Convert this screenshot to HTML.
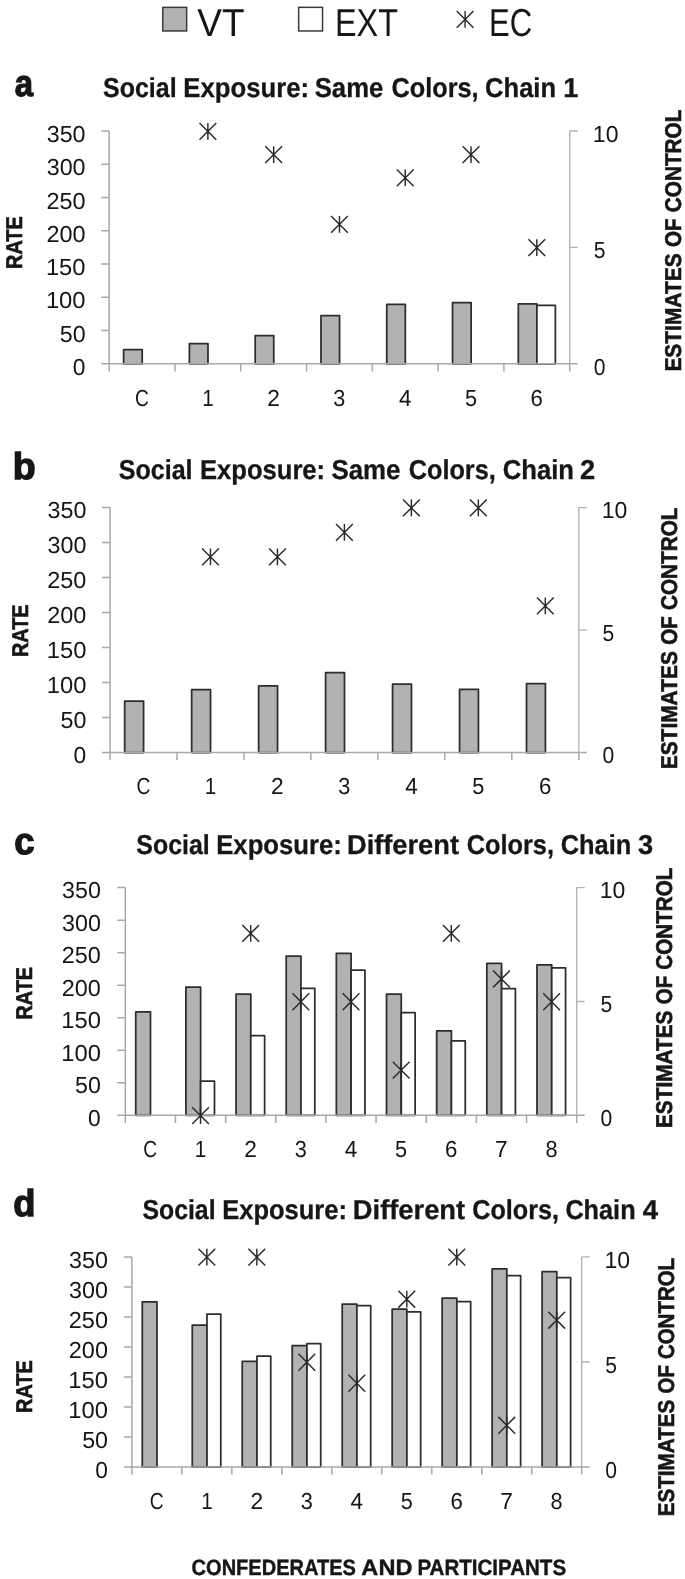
<!DOCTYPE html>
<html><head><meta charset="utf-8"><title>Figure</title>
<style>
html,body{margin:0;padding:0;background:#fff;}
body{width:685px;height:1579px;overflow:hidden;font-family:"Liberation Sans", sans-serif;}
svg{display:block;filter:grayscale(1);font-family:"Liberation Sans", sans-serif;text-rendering:geometricPrecision;}
</style></head><body>
<svg width="685" height="1579" viewBox="0 0 685 1579">
<rect width="685" height="1579" fill="#fff"/>
<rect x="162.75" y="7.35" width="23.9" height="23.6" fill="#b2b2b2" stroke="#3a3a3a" stroke-width="1.5"/>
<rect x="298.65" y="7.35" width="23.9" height="23.6" fill="#fff" stroke="#3a3a3a" stroke-width="1.5"/>
<path d="M456.70 10.90L473.50 27.70M456.70 27.70L473.50 10.90M465.10 10.90L465.10 27.70" stroke="#2a2a2a" stroke-width="1.4" fill="none"/>
<rect x="123.62" y="349.50" width="18.57" height="14.30" fill="#b2b2b2" stroke="#2d2d2d" stroke-width="1.75" stroke-linejoin="round"/>
<rect x="189.40" y="343.60" width="18.57" height="20.20" fill="#b2b2b2" stroke="#2d2d2d" stroke-width="1.75" stroke-linejoin="round"/>
<rect x="255.19" y="335.60" width="18.57" height="28.20" fill="#b2b2b2" stroke="#2d2d2d" stroke-width="1.75" stroke-linejoin="round"/>
<rect x="320.98" y="315.60" width="18.57" height="48.20" fill="#b2b2b2" stroke="#2d2d2d" stroke-width="1.75" stroke-linejoin="round"/>
<rect x="386.76" y="304.40" width="18.57" height="59.40" fill="#b2b2b2" stroke="#2d2d2d" stroke-width="1.75" stroke-linejoin="round"/>
<rect x="452.55" y="302.60" width="18.57" height="61.20" fill="#b2b2b2" stroke="#2d2d2d" stroke-width="1.75" stroke-linejoin="round"/>
<rect x="518.33" y="303.90" width="18.57" height="59.90" fill="#b2b2b2" stroke="#2d2d2d" stroke-width="1.75" stroke-linejoin="round"/>
<rect x="536.91" y="305.30" width="18.47" height="58.50" fill="#fff" stroke="#2d2d2d" stroke-width="1.75" stroke-linejoin="round"/>
<path d="M109.20 131.00V363.80M109.20 363.80H577.70M101.20 363.80H109.20M101.20 330.54H109.20M101.20 297.29H109.20M101.20 264.03H109.20M101.20 230.77H109.20M101.20 197.51H109.20M101.20 164.26H109.20M101.20 131.00H109.20M109.20 363.80V371.40M174.99 363.80V371.40M240.77 363.80V371.40M306.56 363.80V371.40M372.34 363.80V371.40M438.13 363.80V371.40M503.91 363.80V371.40M569.70 363.80V371.40" stroke="#a8a8a8" stroke-width="1.5" fill="none"/>
<path d="M569.70 131.00V363.80M569.70 247.40H577.70M569.70 131.00H577.70" stroke="#b2b2b2" stroke-width="1.35" fill="none"/>
<path d="M199.48 122.90L216.28 139.70M199.48 139.70L216.28 122.90M207.88 122.90L207.88 139.70" stroke="#2a2a2a" stroke-width="1.45" fill="none"/>
<path d="M265.26 146.18L282.06 162.98M265.26 162.98L282.06 146.18M273.66 146.18L273.66 162.98" stroke="#2a2a2a" stroke-width="1.45" fill="none"/>
<path d="M331.05 216.02L347.85 232.82M331.05 232.82L347.85 216.02M339.45 216.02L339.45 232.82" stroke="#2a2a2a" stroke-width="1.45" fill="none"/>
<path d="M396.84 169.46L413.64 186.26M396.84 186.26L413.64 169.46M405.24 169.46L405.24 186.26" stroke="#2a2a2a" stroke-width="1.45" fill="none"/>
<path d="M462.62 146.18L479.42 162.98M462.62 162.98L479.42 146.18M471.02 146.18L471.02 162.98" stroke="#2a2a2a" stroke-width="1.45" fill="none"/>
<path d="M528.41 239.30L545.21 256.10M528.41 256.10L545.21 239.30M536.81 239.30L536.81 256.10" stroke="#2a2a2a" stroke-width="1.45" fill="none"/>
<rect x="124.68" y="701.10" width="18.90" height="51.40" fill="#b2b2b2" stroke="#2d2d2d" stroke-width="1.75" stroke-linejoin="round"/>
<rect x="191.65" y="689.70" width="18.90" height="62.80" fill="#b2b2b2" stroke="#2d2d2d" stroke-width="1.75" stroke-linejoin="round"/>
<rect x="258.63" y="685.90" width="18.90" height="66.60" fill="#b2b2b2" stroke="#2d2d2d" stroke-width="1.75" stroke-linejoin="round"/>
<rect x="325.60" y="672.60" width="18.90" height="79.90" fill="#b2b2b2" stroke="#2d2d2d" stroke-width="1.75" stroke-linejoin="round"/>
<rect x="392.57" y="684.20" width="18.90" height="68.30" fill="#b2b2b2" stroke="#2d2d2d" stroke-width="1.75" stroke-linejoin="round"/>
<rect x="459.54" y="689.40" width="18.90" height="63.10" fill="#b2b2b2" stroke="#2d2d2d" stroke-width="1.75" stroke-linejoin="round"/>
<rect x="526.51" y="683.60" width="18.90" height="68.90" fill="#b2b2b2" stroke="#2d2d2d" stroke-width="1.75" stroke-linejoin="round"/>
<path d="M110.00 507.60V752.50M110.00 752.50H586.80M102.00 752.50H110.00M102.00 717.51H110.00M102.00 682.53H110.00M102.00 647.54H110.00M102.00 612.56H110.00M102.00 577.57H110.00M102.00 542.59H110.00M102.00 507.60H110.00M110.00 752.50V760.10M176.97 752.50V760.10M243.94 752.50V760.10M310.91 752.50V760.10M377.89 752.50V760.10M444.86 752.50V760.10M511.83 752.50V760.10M578.80 752.50V760.10" stroke="#a8a8a8" stroke-width="1.5" fill="none"/>
<path d="M578.80 507.60V752.50M578.80 630.05H586.80M578.80 507.60H586.80" stroke="#b2b2b2" stroke-width="1.35" fill="none"/>
<path d="M202.06 548.48L218.86 565.28M202.06 565.28L218.86 548.48M210.46 548.48L210.46 565.28" stroke="#2a2a2a" stroke-width="1.45" fill="none"/>
<path d="M269.03 548.48L285.83 565.28M269.03 565.28L285.83 548.48M277.43 548.48L277.43 565.28" stroke="#2a2a2a" stroke-width="1.45" fill="none"/>
<path d="M336.00 523.99L352.80 540.79M336.00 540.79L352.80 523.99M344.40 523.99L344.40 540.79" stroke="#2a2a2a" stroke-width="1.45" fill="none"/>
<path d="M402.97 499.50L419.77 516.30M402.97 516.30L419.77 499.50M411.37 499.50L411.37 516.30" stroke="#2a2a2a" stroke-width="1.45" fill="none"/>
<path d="M469.94 499.50L486.74 516.30M469.94 516.30L486.74 499.50M478.34 499.50L478.34 516.30" stroke="#2a2a2a" stroke-width="1.45" fill="none"/>
<path d="M536.91 597.46L553.71 614.26M536.91 614.26L553.71 597.46M545.31 597.46L545.31 614.26" stroke="#2a2a2a" stroke-width="1.45" fill="none"/>
<rect x="135.73" y="1011.80" width="14.75" height="103.50" fill="#b2b2b2" stroke="#2d2d2d" stroke-width="1.75" stroke-linejoin="round"/>
<rect x="185.88" y="987.10" width="14.75" height="128.20" fill="#b2b2b2" stroke="#2d2d2d" stroke-width="1.75" stroke-linejoin="round"/>
<rect x="200.63" y="1081.10" width="13.85" height="34.20" fill="#fff" stroke="#2d2d2d" stroke-width="1.75" stroke-linejoin="round"/>
<rect x="236.04" y="994.20" width="14.75" height="121.10" fill="#b2b2b2" stroke="#2d2d2d" stroke-width="1.75" stroke-linejoin="round"/>
<rect x="250.79" y="1035.70" width="13.85" height="79.60" fill="#fff" stroke="#2d2d2d" stroke-width="1.75" stroke-linejoin="round"/>
<rect x="286.19" y="956.10" width="14.75" height="159.20" fill="#b2b2b2" stroke="#2d2d2d" stroke-width="1.75" stroke-linejoin="round"/>
<rect x="300.94" y="988.30" width="13.85" height="127.00" fill="#fff" stroke="#2d2d2d" stroke-width="1.75" stroke-linejoin="round"/>
<rect x="336.35" y="953.30" width="14.75" height="162.00" fill="#b2b2b2" stroke="#2d2d2d" stroke-width="1.75" stroke-linejoin="round"/>
<rect x="351.10" y="970.10" width="13.85" height="145.20" fill="#fff" stroke="#2d2d2d" stroke-width="1.75" stroke-linejoin="round"/>
<rect x="386.50" y="994.20" width="14.75" height="121.10" fill="#b2b2b2" stroke="#2d2d2d" stroke-width="1.75" stroke-linejoin="round"/>
<rect x="401.26" y="1012.50" width="13.85" height="102.80" fill="#fff" stroke="#2d2d2d" stroke-width="1.75" stroke-linejoin="round"/>
<rect x="436.66" y="1030.90" width="14.75" height="84.40" fill="#b2b2b2" stroke="#2d2d2d" stroke-width="1.75" stroke-linejoin="round"/>
<rect x="451.41" y="1040.90" width="13.85" height="74.40" fill="#fff" stroke="#2d2d2d" stroke-width="1.75" stroke-linejoin="round"/>
<rect x="486.82" y="963.40" width="14.75" height="151.90" fill="#b2b2b2" stroke="#2d2d2d" stroke-width="1.75" stroke-linejoin="round"/>
<rect x="501.57" y="988.60" width="13.85" height="126.70" fill="#fff" stroke="#2d2d2d" stroke-width="1.75" stroke-linejoin="round"/>
<rect x="536.97" y="964.90" width="14.75" height="150.40" fill="#b2b2b2" stroke="#2d2d2d" stroke-width="1.75" stroke-linejoin="round"/>
<rect x="551.72" y="967.90" width="13.85" height="147.40" fill="#fff" stroke="#2d2d2d" stroke-width="1.75" stroke-linejoin="round"/>
<path d="M125.30 887.60V1115.30M125.30 1115.30H584.70M117.30 1115.30H125.30M117.30 1082.77H125.30M117.30 1050.24H125.30M117.30 1017.71H125.30M117.30 985.19H125.30M117.30 952.66H125.30M117.30 920.13H125.30M117.30 887.60H125.30M125.30 1115.30V1122.90M175.46 1115.30V1122.90M225.61 1115.30V1122.90M275.77 1115.30V1122.90M325.92 1115.30V1122.90M376.08 1115.30V1122.90M426.23 1115.30V1122.90M476.39 1115.30V1122.90M526.54 1115.30V1122.90M576.70 1115.30V1122.90" stroke="#a8a8a8" stroke-width="1.5" fill="none"/>
<path d="M576.70 887.60V1115.30M576.70 1001.45H584.70M576.70 887.60H584.70" stroke="#b2b2b2" stroke-width="1.35" fill="none"/>
<path d="M192.13 1107.20L208.93 1124.00M192.13 1124.00L208.93 1107.20M200.53 1107.20L200.53 1124.00" stroke="#2a2a2a" stroke-width="1.45" fill="none"/>
<path d="M242.29 925.04L259.09 941.84M242.29 941.84L259.09 925.04M250.69 925.04L250.69 941.84" stroke="#2a2a2a" stroke-width="1.45" fill="none"/>
<path d="M292.44 993.35L309.24 1010.15M292.44 1010.15L309.24 993.35M300.84 993.35L300.84 1010.15" stroke="#2a2a2a" stroke-width="1.45" fill="none"/>
<path d="M342.60 993.35L359.40 1010.15M342.60 1010.15L359.40 993.35M351.00 993.35L351.00 1010.15" stroke="#2a2a2a" stroke-width="1.45" fill="none"/>
<path d="M392.76 1061.66L409.56 1078.46M392.76 1078.46L409.56 1061.66M401.16 1061.66L401.16 1078.46" stroke="#2a2a2a" stroke-width="1.45" fill="none"/>
<path d="M442.91 925.04L459.71 941.84M442.91 941.84L459.71 925.04M451.31 925.04L451.31 941.84" stroke="#2a2a2a" stroke-width="1.45" fill="none"/>
<path d="M493.07 970.58L509.87 987.38M493.07 987.38L509.87 970.58M501.47 970.58L501.47 987.38" stroke="#2a2a2a" stroke-width="1.45" fill="none"/>
<path d="M543.22 993.35L560.02 1010.15M543.22 1010.15L560.02 993.35M551.62 993.35L551.62 1010.15" stroke="#2a2a2a" stroke-width="1.45" fill="none"/>
<rect x="142.29" y="1301.80" width="14.70" height="165.20" fill="#b2b2b2" stroke="#2d2d2d" stroke-width="1.75" stroke-linejoin="round"/>
<rect x="192.27" y="1325.10" width="14.70" height="141.90" fill="#b2b2b2" stroke="#2d2d2d" stroke-width="1.75" stroke-linejoin="round"/>
<rect x="206.97" y="1314.00" width="13.80" height="153.00" fill="#fff" stroke="#2d2d2d" stroke-width="1.75" stroke-linejoin="round"/>
<rect x="242.25" y="1361.40" width="14.70" height="105.60" fill="#b2b2b2" stroke="#2d2d2d" stroke-width="1.75" stroke-linejoin="round"/>
<rect x="256.94" y="1356.00" width="13.80" height="111.00" fill="#fff" stroke="#2d2d2d" stroke-width="1.75" stroke-linejoin="round"/>
<rect x="292.22" y="1345.60" width="14.70" height="121.40" fill="#b2b2b2" stroke="#2d2d2d" stroke-width="1.75" stroke-linejoin="round"/>
<rect x="306.92" y="1343.50" width="13.80" height="123.50" fill="#fff" stroke="#2d2d2d" stroke-width="1.75" stroke-linejoin="round"/>
<rect x="342.20" y="1304.20" width="14.70" height="162.80" fill="#b2b2b2" stroke="#2d2d2d" stroke-width="1.75" stroke-linejoin="round"/>
<rect x="356.90" y="1305.70" width="13.80" height="161.30" fill="#fff" stroke="#2d2d2d" stroke-width="1.75" stroke-linejoin="round"/>
<rect x="392.18" y="1309.20" width="14.70" height="157.80" fill="#b2b2b2" stroke="#2d2d2d" stroke-width="1.75" stroke-linejoin="round"/>
<rect x="406.88" y="1311.80" width="13.80" height="155.20" fill="#fff" stroke="#2d2d2d" stroke-width="1.75" stroke-linejoin="round"/>
<rect x="442.16" y="1298.20" width="14.70" height="168.80" fill="#b2b2b2" stroke="#2d2d2d" stroke-width="1.75" stroke-linejoin="round"/>
<rect x="456.86" y="1301.70" width="13.80" height="165.30" fill="#fff" stroke="#2d2d2d" stroke-width="1.75" stroke-linejoin="round"/>
<rect x="492.13" y="1268.90" width="14.70" height="198.10" fill="#b2b2b2" stroke="#2d2d2d" stroke-width="1.75" stroke-linejoin="round"/>
<rect x="506.83" y="1275.50" width="13.80" height="191.50" fill="#fff" stroke="#2d2d2d" stroke-width="1.75" stroke-linejoin="round"/>
<rect x="542.11" y="1271.50" width="14.70" height="195.50" fill="#b2b2b2" stroke="#2d2d2d" stroke-width="1.75" stroke-linejoin="round"/>
<rect x="556.81" y="1277.50" width="13.80" height="189.50" fill="#fff" stroke="#2d2d2d" stroke-width="1.75" stroke-linejoin="round"/>
<path d="M131.90 1256.90V1467.00M131.90 1467.00H589.70M123.90 1467.00H131.90M123.90 1436.99H131.90M123.90 1406.97H131.90M123.90 1376.96H131.90M123.90 1346.94H131.90M123.90 1316.93H131.90M123.90 1286.91H131.90M123.90 1256.90H131.90M131.90 1467.00V1474.60M181.88 1467.00V1474.60M231.86 1467.00V1474.60M281.83 1467.00V1474.60M331.81 1467.00V1474.60M381.79 1467.00V1474.60M431.77 1467.00V1474.60M481.74 1467.00V1474.60M531.72 1467.00V1474.60M581.70 1467.00V1474.60" stroke="#a8a8a8" stroke-width="1.5" fill="none"/>
<path d="M581.70 1256.90V1467.00M581.70 1361.95H589.70M581.70 1256.90H589.70" stroke="#b2b2b2" stroke-width="1.35" fill="none"/>
<path d="M198.47 1248.80L215.27 1265.60M198.47 1265.60L215.27 1248.80M206.87 1248.80L206.87 1265.60" stroke="#2a2a2a" stroke-width="1.45" fill="none"/>
<path d="M248.44 1248.80L265.24 1265.60M248.44 1265.60L265.24 1248.80M256.84 1248.80L256.84 1265.60" stroke="#2a2a2a" stroke-width="1.45" fill="none"/>
<path d="M298.42 1353.85L315.22 1370.65M298.42 1370.65L315.22 1353.85M306.82 1353.85L306.82 1370.65" stroke="#2a2a2a" stroke-width="1.45" fill="none"/>
<path d="M348.40 1374.86L365.20 1391.66M348.40 1391.66L365.20 1374.86M356.80 1374.86L356.80 1391.66" stroke="#2a2a2a" stroke-width="1.45" fill="none"/>
<path d="M398.38 1290.82L415.18 1307.62M398.38 1307.62L415.18 1290.82M406.78 1290.82L406.78 1307.62" stroke="#2a2a2a" stroke-width="1.45" fill="none"/>
<path d="M448.36 1248.80L465.16 1265.60M448.36 1265.60L465.16 1248.80M456.76 1248.80L456.76 1265.60" stroke="#2a2a2a" stroke-width="1.45" fill="none"/>
<path d="M498.33 1416.88L515.13 1433.68M498.33 1433.68L515.13 1416.88M506.73 1416.88L506.73 1433.68" stroke="#2a2a2a" stroke-width="1.45" fill="none"/>
<path d="M548.31 1311.83L565.11 1328.63M548.31 1328.63L565.11 1311.83M556.71 1311.83L556.71 1328.63" stroke="#2a2a2a" stroke-width="1.45" fill="none"/>
<text x="197.36" y="36.45" font-size="39.0" font-weight="normal" fill="#161616" textLength="47.24" lengthAdjust="spacingAndGlyphs">VT</text>
<text x="335.00" y="36.45" font-size="39.0" font-weight="normal" fill="#161616" textLength="62.91" lengthAdjust="spacingAndGlyphs">EXT</text>
<text x="489.11" y="36.45" font-size="39.0" font-weight="normal" fill="#161616" textLength="43.13" lengthAdjust="spacingAndGlyphs">EC</text>
<text x="14.77" y="96.30" font-size="37.3" font-weight="bold" fill="#161616" textLength="18.26" lengthAdjust="spacingAndGlyphs" stroke="#161616" stroke-width="1.3">a</text>
<text x="103.02" y="96.60" font-size="27.4" font-weight="bold" fill="#161616" textLength="73.55" lengthAdjust="spacingAndGlyphs" stroke="#161616" stroke-width="0.3">Social</text>
<text x="183.36" y="96.60" font-size="27.4" font-weight="bold" fill="#161616" textLength="125.78" lengthAdjust="spacingAndGlyphs" stroke="#161616" stroke-width="0.3">Exposure:</text>
<text x="314.70" y="96.60" font-size="27.4" font-weight="bold" fill="#161616" textLength="68.60" lengthAdjust="spacingAndGlyphs" stroke="#161616" stroke-width="0.3">Same</text>
<text x="391.48" y="96.60" font-size="27.4" font-weight="bold" fill="#161616" textLength="87.14" lengthAdjust="spacingAndGlyphs" stroke="#161616" stroke-width="0.3">Colors,</text>
<text x="485.07" y="96.60" font-size="27.4" font-weight="bold" fill="#161616" textLength="71.02" lengthAdjust="spacingAndGlyphs" stroke="#161616" stroke-width="0.3">Chain</text>
<text x="563.37" y="96.60" font-size="27.4" font-weight="bold" fill="#161616" textLength="15.06" lengthAdjust="spacingAndGlyphs" stroke="#161616" stroke-width="0.3">1</text>
<text x="72.82" y="374.80" font-size="23.2" font-weight="normal" fill="#161616" textLength="12.67" lengthAdjust="spacingAndGlyphs">0</text>
<text x="59.80" y="341.54" font-size="23.2" font-weight="normal" fill="#161616" textLength="25.85" lengthAdjust="spacingAndGlyphs">50</text>
<text x="45.91" y="308.29" font-size="23.2" font-weight="normal" fill="#161616" textLength="39.65" lengthAdjust="spacingAndGlyphs">100</text>
<text x="45.91" y="275.03" font-size="23.2" font-weight="normal" fill="#161616" textLength="39.65" lengthAdjust="spacingAndGlyphs">150</text>
<text x="46.44" y="241.77" font-size="23.2" font-weight="normal" fill="#161616" textLength="39.11" lengthAdjust="spacingAndGlyphs">200</text>
<text x="46.44" y="208.51" font-size="23.2" font-weight="normal" fill="#161616" textLength="39.11" lengthAdjust="spacingAndGlyphs">250</text>
<text x="46.70" y="175.26" font-size="23.2" font-weight="normal" fill="#161616" textLength="38.85" lengthAdjust="spacingAndGlyphs">300</text>
<text x="46.70" y="142.00" font-size="23.2" font-weight="normal" fill="#161616" textLength="38.85" lengthAdjust="spacingAndGlyphs">350</text>
<text x="593.69" y="374.80" font-size="23.2" font-weight="normal" fill="#161616" textLength="11.73" lengthAdjust="spacingAndGlyphs">0</text>
<text x="593.69" y="258.40" font-size="23.2" font-weight="normal" fill="#161616" textLength="11.73" lengthAdjust="spacingAndGlyphs">5</text>
<text x="592.87" y="142.00" font-size="23.2" font-weight="normal" fill="#161616" textLength="25.57" lengthAdjust="spacingAndGlyphs">10</text>
<text x="135.06" y="406.20" font-size="23.2" font-weight="normal" fill="#161616" textLength="13.86" lengthAdjust="spacingAndGlyphs">C</text>
<text x="202.17" y="406.20" font-size="23.2" font-weight="normal" fill="#161616" textLength="11.49" lengthAdjust="spacingAndGlyphs">1</text>
<text x="267.29" y="406.20" font-size="23.2" font-weight="normal" fill="#161616" textLength="12.66" lengthAdjust="spacingAndGlyphs">2</text>
<text x="333.36" y="406.20" font-size="23.2" font-weight="normal" fill="#161616" textLength="12.08" lengthAdjust="spacingAndGlyphs">3</text>
<text x="399.05" y="406.20" font-size="23.2" font-weight="normal" fill="#161616" textLength="12.52" lengthAdjust="spacingAndGlyphs">4</text>
<text x="464.94" y="406.20" font-size="23.2" font-weight="normal" fill="#161616" textLength="12.08" lengthAdjust="spacingAndGlyphs">5</text>
<text x="530.46" y="406.20" font-size="23.2" font-weight="normal" fill="#161616" textLength="12.37" lengthAdjust="spacingAndGlyphs">6</text>
<text x="22.20" y="268.91" font-size="22.8" font-weight="bold" fill="#161616" textLength="52.57" lengthAdjust="spacingAndGlyphs" transform="rotate(-90 22.20 268.91)" stroke="#161616" stroke-width="0.6">RATE</text>
<text x="681.00" y="371.58" font-size="22.8" font-weight="bold" fill="#161616" textLength="118.19" lengthAdjust="spacingAndGlyphs" transform="rotate(-90 681.00 371.58)" stroke="#161616" stroke-width="0.6">ESTIMATES</text>
<text x="681.00" y="247.00" font-size="22.8" font-weight="bold" fill="#161616" textLength="28.64" lengthAdjust="spacingAndGlyphs" transform="rotate(-90 681.00 247.00)" stroke="#161616" stroke-width="0.6">OF</text>
<text x="681.00" y="212.21" font-size="22.8" font-weight="bold" fill="#161616" textLength="102.56" lengthAdjust="spacingAndGlyphs" transform="rotate(-90 681.00 212.21)" stroke="#161616" stroke-width="0.6">CONTROL</text>
<text x="12.83" y="478.60" font-size="37.3" font-weight="bold" fill="#161616" textLength="22.98" lengthAdjust="spacingAndGlyphs" stroke="#161616" stroke-width="1.3">b</text>
<text x="118.71" y="478.50" font-size="27.4" font-weight="bold" fill="#161616" textLength="73.86" lengthAdjust="spacingAndGlyphs" stroke="#161616" stroke-width="0.3">Social</text>
<text x="199.96" y="478.50" font-size="27.4" font-weight="bold" fill="#161616" textLength="125.16" lengthAdjust="spacingAndGlyphs" stroke="#161616" stroke-width="0.3">Exposure:</text>
<text x="331.39" y="478.50" font-size="27.4" font-weight="bold" fill="#161616" textLength="69.11" lengthAdjust="spacingAndGlyphs" stroke="#161616" stroke-width="0.3">Same</text>
<text x="408.68" y="478.50" font-size="27.4" font-weight="bold" fill="#161616" textLength="87.14" lengthAdjust="spacingAndGlyphs" stroke="#161616" stroke-width="0.3">Colors,</text>
<text x="502.66" y="478.50" font-size="27.4" font-weight="bold" fill="#161616" textLength="71.43" lengthAdjust="spacingAndGlyphs" stroke="#161616" stroke-width="0.3">Chain</text>
<text x="580.00" y="478.50" font-size="27.4" font-weight="bold" fill="#161616" textLength="15.18" lengthAdjust="spacingAndGlyphs" stroke="#161616" stroke-width="0.3">2</text>
<text x="73.62" y="763.10" font-size="23.2" font-weight="normal" fill="#161616" textLength="12.67" lengthAdjust="spacingAndGlyphs">0</text>
<text x="60.60" y="728.11" font-size="23.2" font-weight="normal" fill="#161616" textLength="25.85" lengthAdjust="spacingAndGlyphs">50</text>
<text x="46.71" y="693.13" font-size="23.2" font-weight="normal" fill="#161616" textLength="39.65" lengthAdjust="spacingAndGlyphs">100</text>
<text x="46.71" y="658.14" font-size="23.2" font-weight="normal" fill="#161616" textLength="39.65" lengthAdjust="spacingAndGlyphs">150</text>
<text x="47.24" y="623.16" font-size="23.2" font-weight="normal" fill="#161616" textLength="39.11" lengthAdjust="spacingAndGlyphs">200</text>
<text x="47.24" y="588.17" font-size="23.2" font-weight="normal" fill="#161616" textLength="39.11" lengthAdjust="spacingAndGlyphs">250</text>
<text x="47.50" y="553.19" font-size="23.2" font-weight="normal" fill="#161616" textLength="38.85" lengthAdjust="spacingAndGlyphs">300</text>
<text x="47.50" y="518.20" font-size="23.2" font-weight="normal" fill="#161616" textLength="38.85" lengthAdjust="spacingAndGlyphs">350</text>
<text x="602.49" y="763.10" font-size="23.2" font-weight="normal" fill="#161616" textLength="11.73" lengthAdjust="spacingAndGlyphs">0</text>
<text x="602.49" y="640.65" font-size="23.2" font-weight="normal" fill="#161616" textLength="11.73" lengthAdjust="spacingAndGlyphs">5</text>
<text x="601.67" y="518.20" font-size="23.2" font-weight="normal" fill="#161616" textLength="25.57" lengthAdjust="spacingAndGlyphs">10</text>
<text x="136.45" y="794.20" font-size="23.2" font-weight="normal" fill="#161616" textLength="13.86" lengthAdjust="spacingAndGlyphs">C</text>
<text x="204.75" y="794.20" font-size="23.2" font-weight="normal" fill="#161616" textLength="11.49" lengthAdjust="spacingAndGlyphs">1</text>
<text x="271.05" y="794.20" font-size="23.2" font-weight="normal" fill="#161616" textLength="12.66" lengthAdjust="spacingAndGlyphs">2</text>
<text x="338.31" y="794.20" font-size="23.2" font-weight="normal" fill="#161616" textLength="12.08" lengthAdjust="spacingAndGlyphs">3</text>
<text x="405.19" y="794.20" font-size="23.2" font-weight="normal" fill="#161616" textLength="12.52" lengthAdjust="spacingAndGlyphs">4</text>
<text x="472.26" y="794.20" font-size="23.2" font-weight="normal" fill="#161616" textLength="12.08" lengthAdjust="spacingAndGlyphs">5</text>
<text x="538.97" y="794.20" font-size="23.2" font-weight="normal" fill="#161616" textLength="12.37" lengthAdjust="spacingAndGlyphs">6</text>
<text x="28.50" y="657.01" font-size="22.8" font-weight="bold" fill="#161616" textLength="52.57" lengthAdjust="spacingAndGlyphs" transform="rotate(-90 28.50 657.01)" stroke="#161616" stroke-width="0.6">RATE</text>
<text x="676.90" y="769.28" font-size="22.8" font-weight="bold" fill="#161616" textLength="118.15" lengthAdjust="spacingAndGlyphs" transform="rotate(-90 676.90 769.28)" stroke="#161616" stroke-width="0.6">ESTIMATES</text>
<text x="676.90" y="644.75" font-size="22.8" font-weight="bold" fill="#161616" textLength="28.63" lengthAdjust="spacingAndGlyphs" transform="rotate(-90 676.90 644.75)" stroke="#161616" stroke-width="0.6">OF</text>
<text x="676.90" y="609.97" font-size="22.8" font-weight="bold" fill="#161616" textLength="102.52" lengthAdjust="spacingAndGlyphs" transform="rotate(-90 676.90 609.97)" stroke="#161616" stroke-width="0.6">CONTROL</text>
<text x="14.18" y="854.10" font-size="37.3" font-weight="bold" fill="#161616" textLength="20.29" lengthAdjust="spacingAndGlyphs" stroke="#161616" stroke-width="1.3">c</text>
<text x="136.32" y="854.00" font-size="27.4" font-weight="bold" fill="#161616" textLength="73.34" lengthAdjust="spacingAndGlyphs" stroke="#161616" stroke-width="0.3">Social</text>
<text x="216.26" y="854.00" font-size="27.4" font-weight="bold" fill="#161616" textLength="125.47" lengthAdjust="spacingAndGlyphs" stroke="#161616" stroke-width="0.3">Exposure:</text>
<text x="346.96" y="854.00" font-size="27.4" font-weight="bold" fill="#161616" textLength="112.01" lengthAdjust="spacingAndGlyphs" stroke="#161616" stroke-width="0.3">Different</text>
<text x="466.67" y="854.00" font-size="27.4" font-weight="bold" fill="#161616" textLength="87.35" lengthAdjust="spacingAndGlyphs" stroke="#161616" stroke-width="0.3">Colors,</text>
<text x="560.77" y="854.00" font-size="27.4" font-weight="bold" fill="#161616" textLength="70.50" lengthAdjust="spacingAndGlyphs" stroke="#161616" stroke-width="0.3">Chain</text>
<text x="637.96" y="854.00" font-size="27.4" font-weight="bold" fill="#161616" textLength="15.12" lengthAdjust="spacingAndGlyphs" stroke="#161616" stroke-width="0.3">3</text>
<text x="88.12" y="1125.80" font-size="23.2" font-weight="normal" fill="#161616" textLength="12.67" lengthAdjust="spacingAndGlyphs">0</text>
<text x="75.10" y="1093.27" font-size="23.2" font-weight="normal" fill="#161616" textLength="25.85" lengthAdjust="spacingAndGlyphs">50</text>
<text x="61.21" y="1060.74" font-size="23.2" font-weight="normal" fill="#161616" textLength="39.65" lengthAdjust="spacingAndGlyphs">100</text>
<text x="61.21" y="1028.21" font-size="23.2" font-weight="normal" fill="#161616" textLength="39.65" lengthAdjust="spacingAndGlyphs">150</text>
<text x="61.74" y="995.69" font-size="23.2" font-weight="normal" fill="#161616" textLength="39.11" lengthAdjust="spacingAndGlyphs">200</text>
<text x="61.74" y="963.16" font-size="23.2" font-weight="normal" fill="#161616" textLength="39.11" lengthAdjust="spacingAndGlyphs">250</text>
<text x="62.00" y="930.63" font-size="23.2" font-weight="normal" fill="#161616" textLength="38.85" lengthAdjust="spacingAndGlyphs">300</text>
<text x="62.00" y="898.10" font-size="23.2" font-weight="normal" fill="#161616" textLength="38.85" lengthAdjust="spacingAndGlyphs">350</text>
<text x="600.49" y="1125.80" font-size="23.2" font-weight="normal" fill="#161616" textLength="11.73" lengthAdjust="spacingAndGlyphs">0</text>
<text x="600.49" y="1011.95" font-size="23.2" font-weight="normal" fill="#161616" textLength="11.73" lengthAdjust="spacingAndGlyphs">5</text>
<text x="599.67" y="898.10" font-size="23.2" font-weight="normal" fill="#161616" textLength="25.57" lengthAdjust="spacingAndGlyphs">10</text>
<text x="143.34" y="1157.20" font-size="23.2" font-weight="normal" fill="#161616" textLength="13.86" lengthAdjust="spacingAndGlyphs">C</text>
<text x="194.83" y="1157.20" font-size="23.2" font-weight="normal" fill="#161616" textLength="11.49" lengthAdjust="spacingAndGlyphs">1</text>
<text x="244.31" y="1157.20" font-size="23.2" font-weight="normal" fill="#161616" textLength="12.66" lengthAdjust="spacingAndGlyphs">2</text>
<text x="294.76" y="1157.20" font-size="23.2" font-weight="normal" fill="#161616" textLength="12.08" lengthAdjust="spacingAndGlyphs">3</text>
<text x="344.81" y="1157.20" font-size="23.2" font-weight="normal" fill="#161616" textLength="12.52" lengthAdjust="spacingAndGlyphs">4</text>
<text x="395.07" y="1157.20" font-size="23.2" font-weight="normal" fill="#161616" textLength="12.08" lengthAdjust="spacingAndGlyphs">5</text>
<text x="444.96" y="1157.20" font-size="23.2" font-weight="normal" fill="#161616" textLength="12.37" lengthAdjust="spacingAndGlyphs">6</text>
<text x="495.09" y="1157.20" font-size="23.2" font-weight="normal" fill="#161616" textLength="12.66" lengthAdjust="spacingAndGlyphs">7</text>
<text x="545.54" y="1157.20" font-size="23.2" font-weight="normal" fill="#161616" textLength="12.08" lengthAdjust="spacingAndGlyphs">8</text>
<text x="31.60" y="1019.51" font-size="22.8" font-weight="bold" fill="#161616" textLength="52.57" lengthAdjust="spacingAndGlyphs" transform="rotate(-90 31.60 1019.51)" stroke="#161616" stroke-width="0.6">RATE</text>
<text x="672.40" y="1128.07" font-size="22.8" font-weight="bold" fill="#161616" textLength="117.51" lengthAdjust="spacingAndGlyphs" transform="rotate(-90 672.40 1128.07)" stroke="#161616" stroke-width="0.6">ESTIMATES</text>
<text x="672.40" y="1004.22" font-size="22.8" font-weight="bold" fill="#161616" textLength="28.47" lengthAdjust="spacingAndGlyphs" transform="rotate(-90 672.40 1004.22)" stroke="#161616" stroke-width="0.6">OF</text>
<text x="672.40" y="969.62" font-size="22.8" font-weight="bold" fill="#161616" textLength="101.97" lengthAdjust="spacingAndGlyphs" transform="rotate(-90 672.40 969.62)" stroke="#161616" stroke-width="0.6">CONTROL</text>
<text x="13.29" y="1215.80" font-size="37.3" font-weight="bold" fill="#161616" textLength="22.25" lengthAdjust="spacingAndGlyphs" stroke="#161616" stroke-width="1.3">d</text>
<text x="142.42" y="1218.90" font-size="27.4" font-weight="bold" fill="#161616" textLength="73.14" lengthAdjust="spacingAndGlyphs" stroke="#161616" stroke-width="0.3">Social</text>
<text x="222.17" y="1218.90" font-size="27.4" font-weight="bold" fill="#161616" textLength="124.85" lengthAdjust="spacingAndGlyphs" stroke="#161616" stroke-width="0.3">Exposure:</text>
<text x="352.85" y="1218.90" font-size="27.4" font-weight="bold" fill="#161616" textLength="112.32" lengthAdjust="spacingAndGlyphs" stroke="#161616" stroke-width="0.3">Different</text>
<text x="472.18" y="1218.90" font-size="27.4" font-weight="bold" fill="#161616" textLength="86.93" lengthAdjust="spacingAndGlyphs" stroke="#161616" stroke-width="0.3">Colors,</text>
<text x="565.38" y="1218.90" font-size="27.4" font-weight="bold" fill="#161616" textLength="70.19" lengthAdjust="spacingAndGlyphs" stroke="#161616" stroke-width="0.3">Chain</text>
<text x="642.70" y="1218.90" font-size="27.4" font-weight="bold" fill="#161616" textLength="15.34" lengthAdjust="spacingAndGlyphs" stroke="#161616" stroke-width="0.3">4</text>
<text x="95.22" y="1477.90" font-size="23.2" font-weight="normal" fill="#161616" textLength="12.67" lengthAdjust="spacingAndGlyphs">0</text>
<text x="82.20" y="1447.89" font-size="23.2" font-weight="normal" fill="#161616" textLength="25.85" lengthAdjust="spacingAndGlyphs">50</text>
<text x="68.31" y="1417.87" font-size="23.2" font-weight="normal" fill="#161616" textLength="39.65" lengthAdjust="spacingAndGlyphs">100</text>
<text x="68.31" y="1387.86" font-size="23.2" font-weight="normal" fill="#161616" textLength="39.65" lengthAdjust="spacingAndGlyphs">150</text>
<text x="68.84" y="1357.84" font-size="23.2" font-weight="normal" fill="#161616" textLength="39.11" lengthAdjust="spacingAndGlyphs">200</text>
<text x="68.84" y="1327.83" font-size="23.2" font-weight="normal" fill="#161616" textLength="39.11" lengthAdjust="spacingAndGlyphs">250</text>
<text x="69.10" y="1297.81" font-size="23.2" font-weight="normal" fill="#161616" textLength="38.85" lengthAdjust="spacingAndGlyphs">300</text>
<text x="69.10" y="1267.80" font-size="23.2" font-weight="normal" fill="#161616" textLength="38.85" lengthAdjust="spacingAndGlyphs">350</text>
<text x="605.29" y="1477.90" font-size="23.2" font-weight="normal" fill="#161616" textLength="11.73" lengthAdjust="spacingAndGlyphs">0</text>
<text x="605.29" y="1372.85" font-size="23.2" font-weight="normal" fill="#161616" textLength="11.73" lengthAdjust="spacingAndGlyphs">5</text>
<text x="604.47" y="1267.80" font-size="23.2" font-weight="normal" fill="#161616" textLength="25.57" lengthAdjust="spacingAndGlyphs">10</text>
<text x="149.85" y="1509.00" font-size="23.2" font-weight="normal" fill="#161616" textLength="13.86" lengthAdjust="spacingAndGlyphs">C</text>
<text x="201.16" y="1509.00" font-size="23.2" font-weight="normal" fill="#161616" textLength="11.49" lengthAdjust="spacingAndGlyphs">1</text>
<text x="250.47" y="1509.00" font-size="23.2" font-weight="normal" fill="#161616" textLength="12.66" lengthAdjust="spacingAndGlyphs">2</text>
<text x="300.74" y="1509.00" font-size="23.2" font-weight="normal" fill="#161616" textLength="12.08" lengthAdjust="spacingAndGlyphs">3</text>
<text x="350.61" y="1509.00" font-size="23.2" font-weight="normal" fill="#161616" textLength="12.52" lengthAdjust="spacingAndGlyphs">4</text>
<text x="400.69" y="1509.00" font-size="23.2" font-weight="normal" fill="#161616" textLength="12.08" lengthAdjust="spacingAndGlyphs">5</text>
<text x="450.41" y="1509.00" font-size="23.2" font-weight="normal" fill="#161616" textLength="12.37" lengthAdjust="spacingAndGlyphs">6</text>
<text x="500.36" y="1509.00" font-size="23.2" font-weight="normal" fill="#161616" textLength="12.66" lengthAdjust="spacingAndGlyphs">7</text>
<text x="550.62" y="1509.00" font-size="23.2" font-weight="normal" fill="#161616" textLength="12.08" lengthAdjust="spacingAndGlyphs">8</text>
<text x="31.60" y="1412.91" font-size="22.8" font-weight="bold" fill="#161616" textLength="52.57" lengthAdjust="spacingAndGlyphs" transform="rotate(-90 31.60 1412.91)" stroke="#161616" stroke-width="0.6">RATE</text>
<text x="673.70" y="1516.36" font-size="22.8" font-weight="bold" fill="#161616" textLength="116.65" lengthAdjust="spacingAndGlyphs" transform="rotate(-90 673.70 1516.36)" stroke="#161616" stroke-width="0.6">ESTIMATES</text>
<text x="673.70" y="1393.42" font-size="22.8" font-weight="bold" fill="#161616" textLength="28.26" lengthAdjust="spacingAndGlyphs" transform="rotate(-90 673.70 1393.42)" stroke="#161616" stroke-width="0.6">OF</text>
<text x="673.70" y="1359.08" font-size="22.8" font-weight="bold" fill="#161616" textLength="101.22" lengthAdjust="spacingAndGlyphs" transform="rotate(-90 673.70 1359.08)" stroke="#161616" stroke-width="0.6">CONTROL</text>
<text x="191.59" y="1574.80" font-size="22.1" font-weight="bold" fill="#161616" textLength="164.40" lengthAdjust="spacingAndGlyphs" stroke="#161616" stroke-width="0.4">CONFEDERATES</text>
<text x="361.37" y="1574.80" font-size="22.1" font-weight="bold" fill="#161616" textLength="51.07" lengthAdjust="spacingAndGlyphs" stroke="#161616" stroke-width="0.4">AND</text>
<text x="417.41" y="1574.80" font-size="22.1" font-weight="bold" fill="#161616" textLength="148.68" lengthAdjust="spacingAndGlyphs" stroke="#161616" stroke-width="0.4">PARTICIPANTS</text>
</svg>
</body></html>
